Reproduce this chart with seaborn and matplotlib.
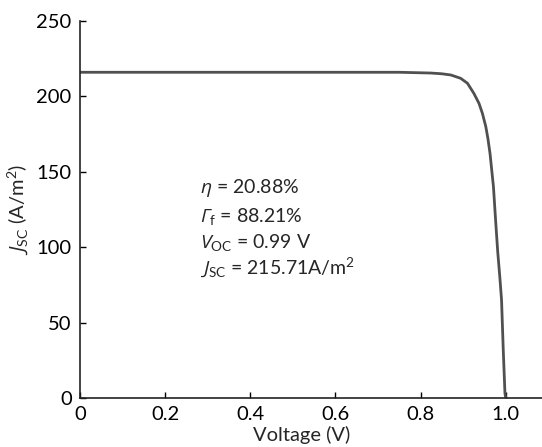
import pandas as pd
import seaborn as sns
import matplotlib.pyplot as plt

# J-V curve points
voltage = [0.0, 0.2, 0.4, 0.6, 0.75, 0.824, 0.85, 0.871, 0.894, 0.910, 0.925,
           0.937, 0.945, 0.953, 0.958, 0.963, 0.967, 0.971, 0.976, 0.981,
           0.986, 0.990, 0.994, 0.998, 1.0]
current = [216.0, 216.0, 216.0, 216.0, 216.0, 215.5, 215.0, 214.2, 212.0, 208.7, 202.0,
           195.4, 188.8, 180.0, 172.0, 162.0, 151.0, 140.0, 118.0, 97.0,
           80.0, 65.0, 32.0, 3.0, 0.0]

xticks = [0, 0.2, 0.4, 0.6, 0.8, 1.0]
xticklabels = ['0', '0.2', '0.4', '0.6', '0.8', '1.0']
yticks = [0, 50, 100, 150, 200, 250]

labels = [r'$η$ = 20.88%',
          r'$\mathcal{Γ}_{\mathrm{f}}$ = 88.21%',
          r'$V_{\mathrm{OC}}$ = 0.99 V',
          r'$J_{\mathrm{SC}}$ = 215.71A/m$^{\mathrm{2}}$']

df = pd.DataFrame({'Voltage': voltage, 'J': current})

sns.set_style('ticks')
plt.rcParams['font.family'] = ['Lato', 'Open Sans', 'DejaVu Sans']
plt.rcParams['mathtext.fontset'] = 'custom'
plt.rcParams['mathtext.rm'] = 'Lato'
plt.rcParams['mathtext.it'] = 'Open Sans:italic'
plt.rcParams['mathtext.cal'] = 'Open Sans:italic'
plt.rcParams['mathtext.default'] = 'it'

fig = plt.figure(figsize=(5.42, 4.47), dpi=100)
ax = fig.add_axes([0.1476, 0.1096, 0.8524, 0.8434])

sns.lineplot(data=df, x='Voltage', y='J', ax=ax, color='#505050', linewidth=2.0,
             sort=False)

ax.set_xlim(0, 1.085)
ax.set_ylim(0, 250)
ax.set_xticks(xticks)
ax.set_xticklabels(xticklabels)
ax.set_yticks(yticks)
ax.tick_params(direction='in', length=4, width=1, labelsize=14.5, colors='black', pad=6)
for s in ['left', 'bottom']:
    ax.spines[s].set_linewidth(1.2)
    ax.spines[s].set_color('#222222')
sns.despine(ax=ax)

ax.set_xlabel('Voltage (V)', fontsize=14.5)
ax.xaxis.set_label_coords(0.48, -0.075)
ax.set_ylabel(r'$J_{\mathrm{SC}}$ (A/m$^{\mathrm{2}}$)', fontsize=14.5, labelpad=4)

ys = [136.2, 117.0, 99.3, 82.7]
for lab, y in zip(labels, ys):
    ax.text(0.282, y, lab, fontsize=14, va='baseline', ha='left')

fig.savefig('out.png', dpi=100)
